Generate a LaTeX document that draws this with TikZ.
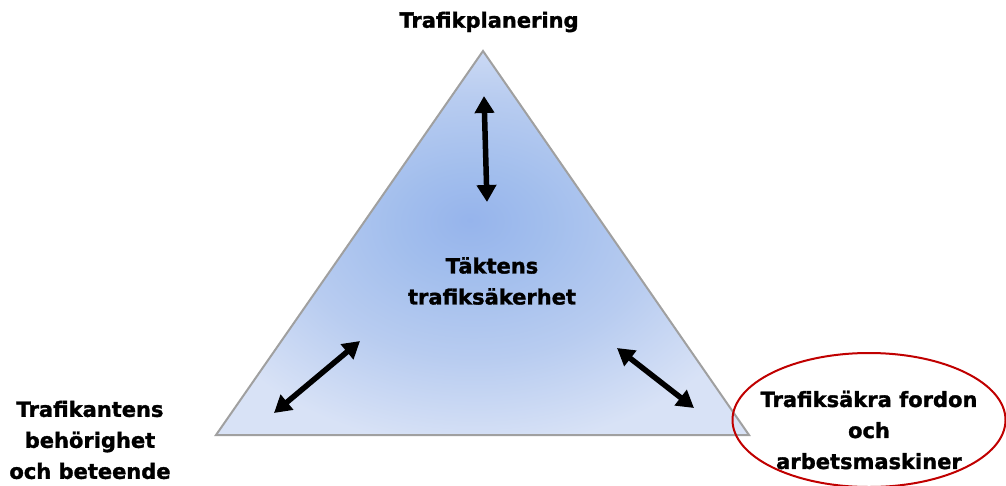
\documentclass[tikz,border=0pt]{standalone}
\usepackage{fontspec}
\setmainfont{DejaVu Sans}[BoldFeatures={FakeBold=1.5}]
\usetikzlibrary{arrows.meta,shapes.geometric}
\definecolor{triborder}{RGB}{160,160,160}
\definecolor{shcA}{RGB}{150,180,236}
\definecolor{shcB}{RGB}{162,190,237}
\definecolor{shcC}{RGB}{184,204,240}
\definecolor{shcD}{RGB}{216,226,246}
\definecolor{ellred}{RGB}{192,0,0}
\pgfdeclareradialshading{trishade}{\pgfpoint{-1.2bp}{3bp}}{color(0bp)=(shcA); color(7bp)=(shcB); color(17bp)=(shcC); color(28bp)=(shcD); color(50bp)=(shcD)}
\tikzset{
  lbl/.style={font=\fontsize{21}{31}\selectfont\bfseries, align=center, text=black, inner sep=0pt},
  dblarrow/.style={line width=5.5pt, {Triangle[length=17pt,width=19pt]}-{Triangle[length=17pt,width=19pt]}},
}
\begin{document}
\begin{tikzpicture}[x=1pt,y=-1pt]
\useasboundingbox (0,0) rectangle (1006,485);
% triangle
\coordinate (apex) at (483,51);
\coordinate (bl) at (216,435);
\coordinate (br) at (749,435);
\shade[shading=trishade] (apex) -- (bl) -- (br) -- cycle;
\draw[triborder, line width=2pt, line join=miter] (apex) -- (bl) -- (br) -- cycle;
% labels
\node[lbl] (top) at (489,22) {Trafikplanering};
\node[lbl] (center) at (492,281) {Täktens\\trafiksäkerhet};
\node[lbl] (left) at (90,440) {Trafikantens\\behörighet\\och beteende};
\node[lbl] (right) at (869,430) {Trafiksäkra fordon\\och\\arbetsmaskiner};
% ellipse
\node[draw=ellred, line width=2pt, ellipse, minimum width=273pt, minimum height=134pt] (ell) at (869,420) {};
% arrows
\coordinate (a1) at (484,96);
\coordinate (a2) at (487,202);
\coordinate (b1) at (274,413);
\coordinate (b2) at (360,341);
\coordinate (c1) at (617,348);
\coordinate (c2) at (694,408);
\draw[dblarrow] (a1) -- (a2);
\draw[dblarrow] (b1) -- (b2);
\draw[dblarrow] (c1) -- (c2);
\end{tikzpicture}
\end{document}
